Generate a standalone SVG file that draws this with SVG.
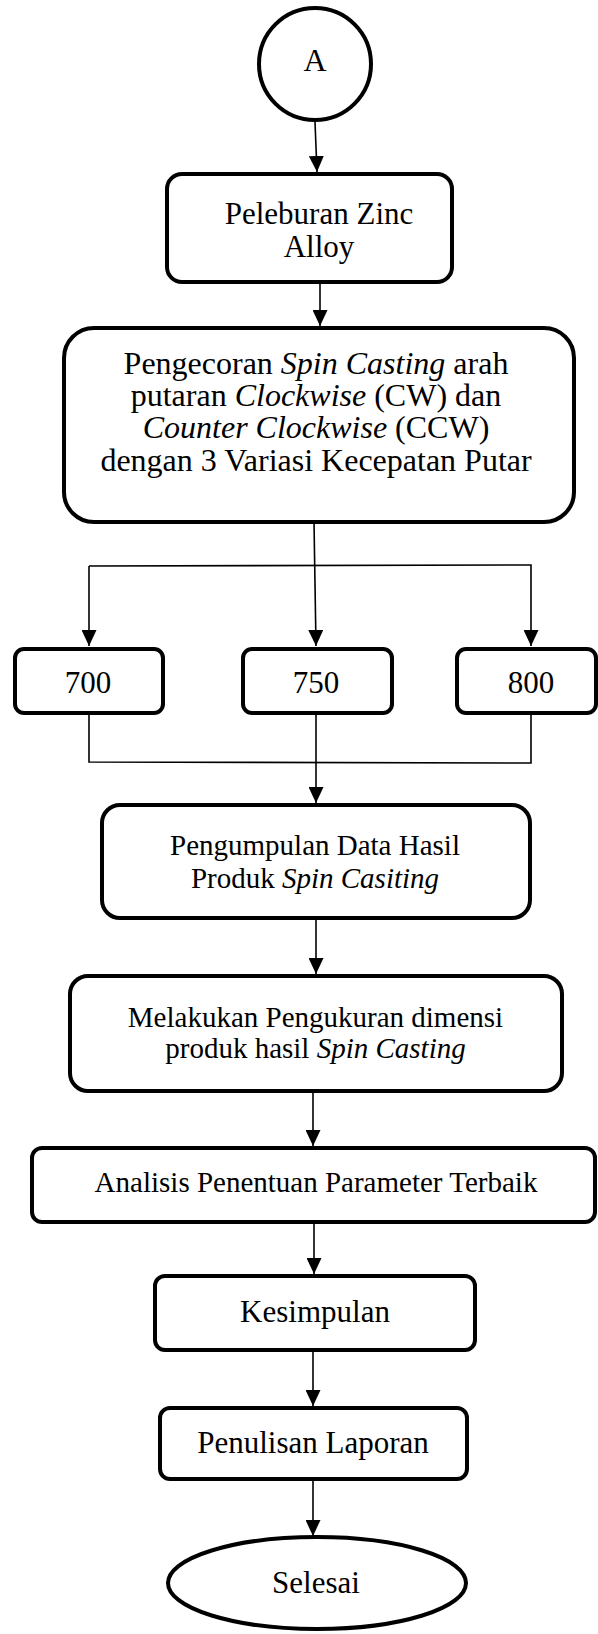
<svg xmlns="http://www.w3.org/2000/svg" width="598" height="1634" viewBox="0 0 598 1634">
<style>
.box{fill:#fff;stroke:#000;stroke-width:4}
.ln{fill:none;stroke:#000;stroke-width:1.6}
text{font-family:"Liberation Serif","Times New Roman",serif;fill:#000;text-anchor:middle}
.f31{font-size:31px}
.f32{font-size:32px}
.f29{font-size:29px}
.i{font-style:italic}
</style>
<defs>
<marker id="ah" viewBox="0 0 16 15" refX="16" refY="7.5" markerWidth="16" markerHeight="15" markerUnits="userSpaceOnUse" orient="auto">
<path d="M0,0 L16,7.5 L0,15 Z" fill="#000"/>
</marker>
</defs>
<rect width="598" height="1634" fill="#fff"/>
<g id="connectors">
<line class="ln" x1="315" y1="122" x2="317" y2="172" marker-end="url(#ah)"/>
<line class="ln" x1="320" y1="282" x2="320" y2="326" marker-end="url(#ah)"/>
<line class="ln" x1="314" y1="522" x2="316" y2="646" marker-end="url(#ah)"/>
<polyline class="ln" points="89,566 531,565 531,646" marker-end="url(#ah)"/>
<line class="ln" x1="89" y1="566" x2="89" y2="646" marker-end="url(#ah)"/>
<polyline class="ln" points="89,713 89,762 531,763 531,715"/>
<line class="ln" x1="316" y1="713" x2="316" y2="803" marker-end="url(#ah)"/>
<line class="ln" x1="316" y1="918" x2="316" y2="974" marker-end="url(#ah)"/>
<line class="ln" x1="313" y1="1092" x2="313" y2="1146" marker-end="url(#ah)"/>
<line class="ln" x1="314" y1="1223" x2="314" y2="1274" marker-end="url(#ah)"/>
<line class="ln" x1="313" y1="1351" x2="313" y2="1406" marker-end="url(#ah)"/>
<line class="ln" x1="313" y1="1480" x2="313" y2="1536" marker-end="url(#ah)"/>
</g>
<g id="nodeA">
<circle class="box" cx="315" cy="64" r="56"/>
<text class="f32" x="315" y="71">A</text>
</g>
<g id="peleburan">
<rect class="box" x="167" y="174" width="285" height="108" rx="15"/>
<text class="f31" x="319" y="224">Peleburan Zinc</text>
<text class="f31" x="319" y="257">Alloy</text>
</g>
<g id="pengecoran">
<rect class="box" x="64" y="328" width="510" height="194" rx="30"/>
<text class="f32" x="316" y="374">Pengecoran <tspan class="i">Spin Casting</tspan> arah</text>
<text class="f32" x="316" y="406">putaran <tspan class="i">Clockwise</tspan> (CW) dan</text>
<text class="f32" x="316" y="438"><tspan class="i">Counter Clockwise</tspan> (CCW)</text>
<text class="f32" x="316" y="471">dengan 3 Variasi Kecepatan Putar</text>
</g>
<g id="n700">
<rect class="box" x="15" y="649" width="148" height="64" rx="9"/>
<text class="f31" x="88" y="693">700</text>
</g>
<g id="n750">
<rect class="box" x="243" y="649" width="149" height="64" rx="9"/>
<text class="f31" x="316" y="693">750</text>
</g>
<g id="n800">
<rect class="box" x="457" y="649" width="139" height="64" rx="9"/>
<text class="f31" x="531" y="693">800</text>
</g>
<g id="pengumpulan">
<rect class="box" x="102" y="805" width="428" height="113" rx="18"/>
<text class="f29" x="315" y="855">Pengumpulan Data Hasil</text>
<text class="f29" x="315" y="888">Produk <tspan class="i">Spin Casiting</tspan></text>
</g>
<g id="pengukuran">
<rect class="box" x="70" y="976" width="492" height="115" rx="18"/>
<text class="f29" x="315.5" y="1027">Melakukan Pengukuran dimensi</text>
<text class="f29" x="315.5" y="1058">produk hasil <tspan class="i">Spin Casting</tspan></text>
</g>
<g id="analisis">
<rect class="box" x="32" y="1148" width="563" height="74" rx="10"/>
<text class="f29" x="316" y="1192">Analisis Penentuan Parameter Terbaik</text>
</g>
<g id="kesimpulan">
<rect class="box" x="155" y="1276" width="320" height="74" rx="10"/>
<text class="f31" x="315" y="1322">Kesimpulan</text>
</g>
<g id="penulisan">
<rect class="box" x="160" y="1408" width="307" height="71" rx="10"/>
<text class="f31" x="313" y="1453">Penulisan Laporan</text>
</g>
<g id="selesai">
<ellipse class="box" cx="317" cy="1583" rx="149" ry="46"/>
<text class="f31" x="316" y="1593">Selesai</text>
</g>
</svg>
